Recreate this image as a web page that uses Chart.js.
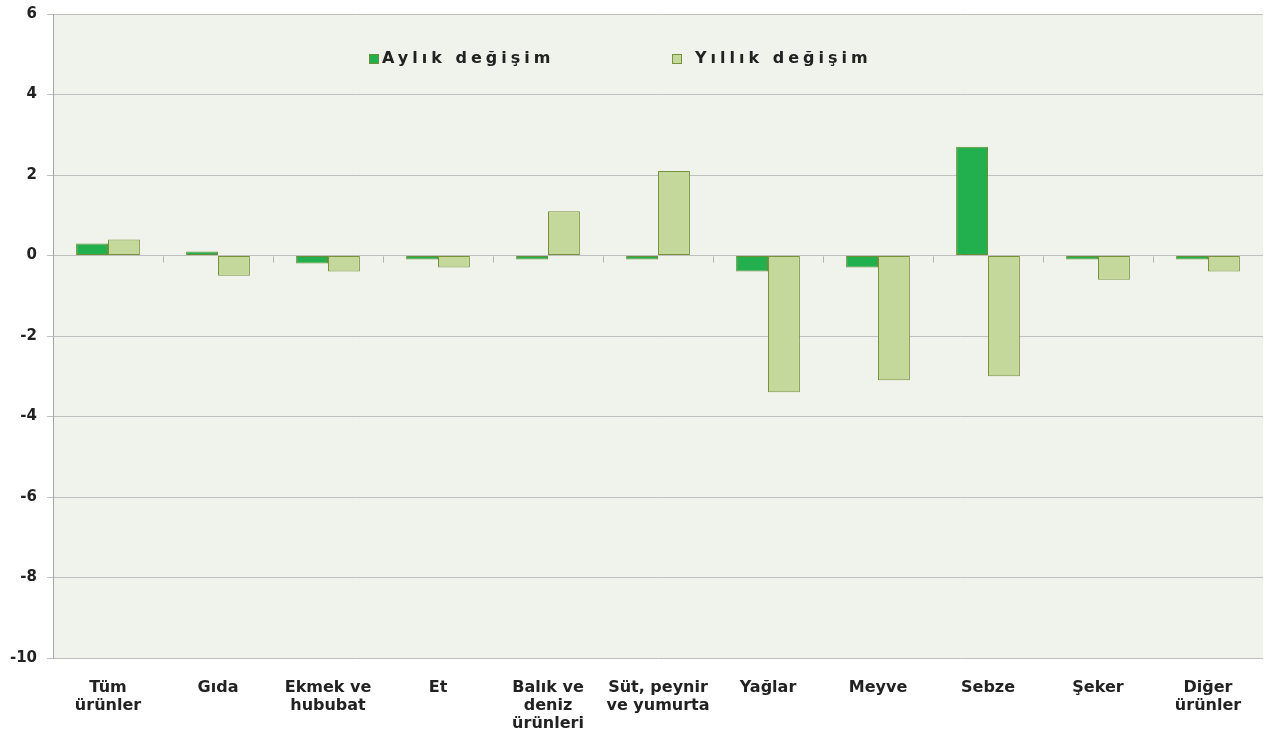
<!DOCTYPE html>
<html>
<head>
<meta charset="utf-8">
<script src="https://cdn.jsdelivr.net/npm/chart.js@4.4.1/dist/chart.umd.min.js"></script>
<style>
body{margin:0;background:#fff}
canvas{display:block}
</style>
</head>
<body>
<canvas id="chart" width="1269" height="733"></canvas>
<script>
// ===== DATA =====
let categories=[
    ["Tüm","ürünler"],
    "Gıda",
    ["Ekmek ve","hububat"],
    "Et",
    ["Balık ve","deniz","ürünleri"],
    ["Süt, peynir","ve yumurta"],
    "Yağlar",
    "Meyve",
    "Sebze",
    "Şeker",
    ["Diğer","ürünler"]
]
let monthly=[0.3,0.1,-0.2,-0.1,-0.1,-0.1,-0.4,-0.3,2.7,-0.1,-0.1]
let yearly=[0.4,-0.5,-0.4,-0.3,1.1,2.1,-3.4,-3.1,-3.0,-0.6,-0.4]
let seriesNames=["Aylık değişim","Yıllık değişim"]
let yMin=-10, yMax=6, yStep=2

const FONT="'DejaVu Sans', Verdana, sans-serif"
const TEXT="#222222"
const GRID="#bfbfbf"

// plot background
const plotBg={
    id:'plotBg',
    beforeDraw(chart){
        let {ctx,chartArea:a}=chart
        ctx.save()
        ctx.fillStyle="#f0f3eb"
        ctx.fillRect(a.left,a.top,a.right-a.left,a.bottom-a.top)
        ctx.restore()
    }
}

// small category ticks on the zero line
const zeroTicks={
    id:'zeroTicks',
    afterDatasetsDraw(chart){
        let {ctx,scales}=chart
        let x=scales.x, y=scales.y
        let y0=Math.round(y.getPixelForValue(0))+0.5
        let w=x.getPixelForValue(1)-x.getPixelForValue(0)
        ctx.save()
        ctx.strokeStyle="#b0b0b0"
        ctx.lineWidth=1
        ctx.beginPath()
        for(let i=1;i<categories.length;i++){
            let px=Math.round(x.getPixelForValue(i)-w/2)+0.5
            ctx.moveTo(px,y0)
            ctx.lineTo(px,y0+6)
        }
        ctx.stroke()
        ctx.restore()
    }
}

// letter-spaced legend
const spacedLegend={
    id:'spacedLegend',
    afterDraw(chart){
        let ctx=chart.ctx
        let starts=[369,672]
        let cy=59
        ctx.save()
        ctx.font="bold 16px "+FONT
        ctx.textBaseline="middle"
        ctx.letterSpacing="4px"
        chart.data.datasets.forEach((ds,i)=>{
            let x=starts[i]
            ctx.fillStyle=ds.backgroundColor
            ctx.fillRect(x,cy-5,10,10)
            ctx.strokeStyle=ds.borderColor
            ctx.lineWidth=1
            ctx.strokeRect(x+0.5,cy-4.5,9,9)
            ctx.fillStyle=TEXT
            ctx.fillText(ds.label,x+(i==0?13:23),cy)
        })
        ctx.restore()
    }
}

new Chart(document.getElementById("chart"),{
    type:'bar',
    data:{
        labels:categories,
        datasets:[{
            label:seriesNames[0],
            data:monthly,
            backgroundColor:'#22b04e',
            borderColor:'#6b8e35',
            borderWidth:1,
            borderSkipped:false
        },{
            label:seriesNames[1],
            data:yearly,
            backgroundColor:'#c5d89b',
            borderColor:'#76923c',
            borderWidth:1,
            borderSkipped:false
        }]
    },
    options:{
        responsive:false,
        animation:false,
        categoryPercentage:0.58,
        barPercentage:1,
        layout:{padding:{left:0,right:6,top:14,bottom:0}},
        plugins:{
            legend:{display:false},
            tooltip:{enabled:false}
        },
        scales:{
            x:{
                grid:{display:false},
                border:{display:false},
                ticks:{
                    color:TEXT,
                    font:{family:FONT,size:16,weight:'bold',lineHeight:1.13},
                    maxRotation:0,
                    autoSkip:false,
                    padding:13
                },
                afterFit(s){ s.height=75 }
            },
            y:{
                min:yMin,
                max:yMax,
                grid:{color:GRID,tickLength:6,lineWidth:1},
                border:{display:true,color:'#a6a6a6'},
                ticks:{
                    stepSize:yStep,
                    color:TEXT,
                    font:{family:FONT,size:15,weight:'bold'},
                    padding:10
                },
                afterFit(s){ s.width=53; s.paddingTop=0; s.paddingBottom=0 }
            }
        }
    },
    plugins:[plotBg,zeroTicks,spacedLegend]
})
</script>
</body>
</html>
